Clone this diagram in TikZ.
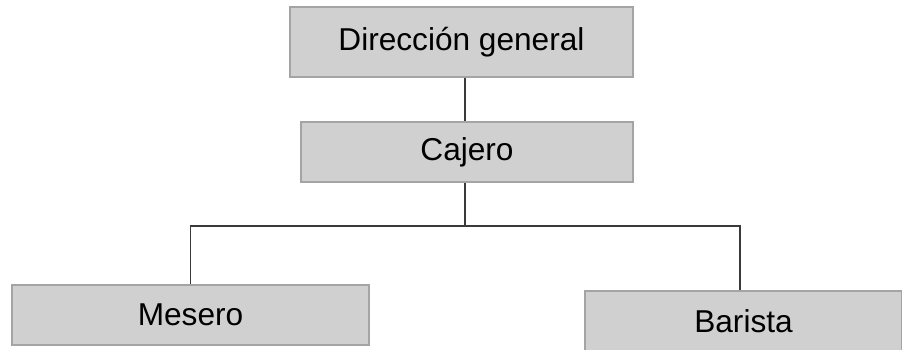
\documentclass[tikz,border=0pt]{standalone}
\usepackage{fontspec}
\setmainfont{Liberation Sans}
\definecolor{boxfill}{HTML}{D0D0D0}
\definecolor{boxline}{HTML}{A4A4A4}
\definecolor{wire}{HTML}{3A3A3A}
\tikzset{
  puesto/.style={draw=boxline,fill=boxfill,line width=0.6pt,inner sep=0pt,font=\fontsize{18}{21}\selectfont},
  enlace/.style={draw=wire,line width=0.6pt}
}
\begin{document}
\begin{tikzpicture}[x=0.02cm,y=-0.02cm]
        \useasboundingbox (0,0) rectangle (902,349);
        \node[puesto,minimum width=343*0.02cm,minimum height=70*0.02cm] (direccion) at (461.5,42) {Dirección general};
        \node[puesto,minimum width=332*0.02cm,minimum height=60*0.02cm] (cajero) at (467,152) {Cajero};
        \node[puesto,minimum width=357*0.02cm,minimum height=60*0.02cm] (mesero) at (190.5,315) {Mesero};
        \node[puesto,minimum width=317*0.02cm,minimum height=60*0.02cm] (barista) at (743.5,321) {Barista};
        \coordinate (ramal) at (465,226);
        \draw[enlace] (direccion.south -| ramal) -- (cajero.north -| ramal);
        \draw[enlace] (cajero.south -| ramal) -- (ramal);
        \draw[enlace] (mesero.north) |- (ramal);
        \draw[enlace] (ramal) -| ([xshift=-3.5*0.02cm]barista.north);
      \end{tikzpicture}
\end{document}
